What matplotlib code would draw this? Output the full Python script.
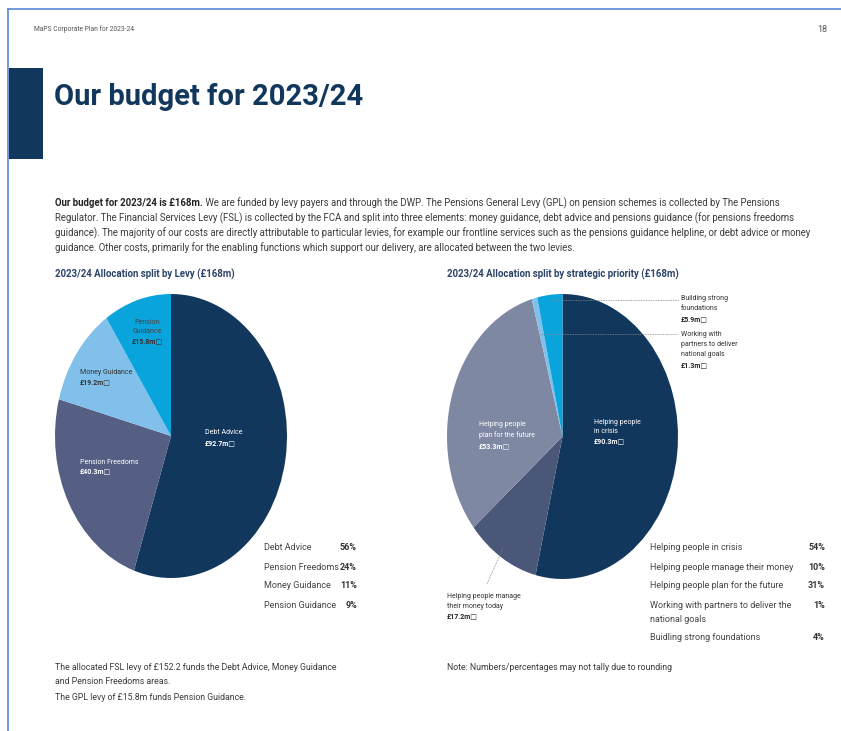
import matplotlib
matplotlib.use("Agg")
import matplotlib.pyplot as plt
from matplotlib.patches import Rectangle
from matplotlib.lines import Line2D

plt.rcParams['font.family'] = ['Roboto', 'DejaVu Sans']

NAVY = "#12375c"
GREY_TXT = "#3c3c3c"

# levy split
levy_names = ["Debt Advice", "Pension Freedoms", "Money Guidance", "Pension Guidance"]
levy_values = [92.7, 40.3, 19.2, 15.8]
levy_pct = ["56%", "24%", "11%", "9%"]
levy_colors = ["#12375c", "#545f83", "#80c0ea", "#0aa4dd"]

# strategic priority split
prio_names = ["Helping people in crisis", "Helping people manage their money",
              "Helping people plan for the future",
              "Working with partners to deliver the\nnational goals",
              "Buidling strong foundations"]
prio_values = [90.3, 17.2, 53.3, 1.3, 5.9]
prio_pct = ["54%", "10%", "31%", "1%", "4%"]
prio_colors = ["#12375c", "#4b5779", "#7f88a3", "#80c0ea", "#0aa4dd"]

W, H = 841, 731
fig = plt.figure(figsize=(W / 100, H / 100), dpi=100)


def pie_axes(x0, y0, x1, y1, values, colors):
    ax = fig.add_axes([x0 / W, 1 - y1 / H, (x1 - x0) / W, (y1 - y0) / H])
    ax.pie(values, colors=colors, startangle=90, counterclock=False,
           wedgeprops=dict(linewidth=0))
    ax.set_aspect('auto')
    ax.set_xlim(-1, 1)
    ax.set_ylim(-1, 1)
    ax.axis('off')
    return ax


pie_axes(55, 294, 287, 578, levy_values, levy_colors)
pie_axes(447, 294, 678, 579, prio_values, prio_colors)

# overlay in pixel coordinates for page furniture and labels
ov = fig.add_axes([0, 0, 1, 1], zorder=5)
ov.set_xlim(0, W)
ov.set_ylim(H, 0)
ov.axis('off')

# page frame
ov.add_line(Line2D([8.5, 8.5], [9, H], color="#5b87d6", lw=1.2))
ov.add_line(Line2D([8.5, W], [9, 9], color="#5b87d6", lw=1.2))
ov.add_patch(Rectangle((9, 68), 34, 91, color=NAVY, lw=0))

ov.text(34, 29, "MaPS Corporate Plan for 2023-24", fontsize=4.9, color="#555555", va='center')
ov.text(827, 29, "18", fontsize=6.5, color="#555555", va='center', ha='right')
ov.text(54, 97, "Our budget for 2023/24", fontsize=21, fontweight='bold', color=NAVY,
        va='center')

para = [
    "We are funded by levy payers and through the DWP. The Pensions General Levy (GPL) on pension schemes is collected by The Pensions",
    "Regulator. The Financial Services Levy (FSL) is collected by the FCA and split into three elements: money guidance, debt advice and pensions guidance (for pensions freedoms",
    "guidance). The majority of our costs are directly attributable to particular levies, for example our frontline services such as the pensions guidance helpline, or debt advice or money",
    "guidance. Other costs, primarily for the enabling functions which support our delivery, are allocated between the two levies.",
]
psize = 6.9
t = ov.text(55, 203, "Our budget for 2023/24 is £168m.", fontsize=psize, fontweight='bold',
            color="#222222", va='center')
ov.annotate(" " + para[0], xy=(1, 0.5), xycoords=t, va='center', fontsize=psize, color=GREY_TXT)
for i, line in enumerate(para[1:]):
    ov.text(55, 218 + 15 * i, line, fontsize=psize, color=GREY_TXT, va='center')

ov.text(55, 274, "2023/24 Allocation split by Levy (£168m)", fontsize=6.9, fontweight='bold',
        color="#2b4368", va='center')
ov.text(447, 274, "2023/24 Allocation split by strategic priority (£168m)", fontsize=6.9,
        fontweight='bold', color="#2b4368", va='center')

box = "\u25a1"
small = 5.0


def label(x, y, lines, value, color, vcolor=None, ha='left', step=10):
    # label lines followed by the bold money line
    for i, s in enumerate(lines):
        ov.text(x, y + step * i, s, fontsize=small, color=color, va='center', ha=ha)
    ov.text(x, y + step * len(lines), "£%.1fm%s" % (value, box), fontsize=small,
            color=vcolor or color, fontweight='bold', va='center', ha=ha)


# labels inside the levy pie
label(205, 433, ["Debt Advice"], levy_values[0], "white")
label(80, 462, ["Pension Freedoms"], levy_values[1], "white", step=9)
label(80, 372, ["Money Guidance"], levy_values[2], "#333333", step=10)
label(147, 322, ["Pension", "Guidance"], levy_values[3], "#444444", "#333333", ha='center',
      step=9.7)

# labels inside / around the priority pie
label(594, 422, ["Helping people", "in crisis"], prio_values[0], "white", step=9.7)
label(479, 425, ["Helping people", "plan for the future"], prio_values[2], "white", step=10.3)

ov.add_line(Line2D([549, 679], [299.5, 299.5], color="#888888", lw=0.6, ls=(0, (1, 1))))
label(681, 298, ["Building strong", "foundations"], prio_values[4], "#333333", "#222222",
      step=10.5)
ov.add_line(Line2D([536, 678], [334, 334], color="#888888", lw=0.6, ls=(0, (1, 1))))
label(681, 334, ["Working with", "partners to deliver", "national goals"], prio_values[3],
      "#333333", "#222222", step=10.3)
ov.add_line(Line2D([503, 487], [548, 584], color="#888888", lw=0.6, ls=(0, (1, 1))))
label(447, 596, ["Helping people manage", "their money today"], prio_values[1], "#333333",
      "#222222", step=10)

# legends with percentages
lsize = 6.5
for i, (n, p) in enumerate(zip(levy_names, levy_pct)):
    y = 548 + 19 * i
    ov.text(264, y, n, fontsize=lsize, color="#444444", va='center')
    ov.text(357, y, p, fontsize=lsize, color="#333333", fontweight='bold', va='center',
            ha='right')

prio_y = [548, 567, 586, 605, 638]
for n, p, y in zip(prio_names, prio_pct, prio_y):
    for j, s in enumerate(n.split("\n")):
        ov.text(650, y + 14 * j, s, fontsize=lsize, color="#444444", va='center')
    ov.text(825, y, p, fontsize=lsize, color="#333333", fontweight='bold', va='center',
            ha='right')

fsize = 6.3
ov.text(447, 668, "Note: Numbers/percentages may not tally due to rounding", fontsize=fsize,
        color=GREY_TXT, va='center')
ov.text(55, 667, "The allocated FSL levy of £152.2 funds the Debt Advice, Money Guidance",
        fontsize=fsize, color=GREY_TXT, va='center')
ov.text(55, 682, "and Pension Freedoms areas.", fontsize=fsize, color=GREY_TXT, va='center')
ov.text(55, 697, "The GPL levy of £15.8m funds Pension Guidance.", fontsize=fsize,
        color=GREY_TXT, va='center')

fig.savefig("out.png", dpi=100)
